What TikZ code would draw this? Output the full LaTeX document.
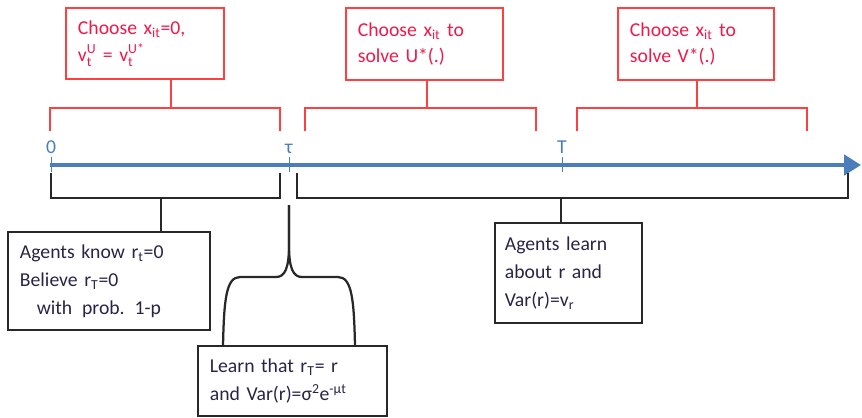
\documentclass[tikz,border=0pt]{standalone}
\usepackage{amsmath}
\usepackage{fontspec}
\setmainfont{Carlito}
\usetikzlibrary{arrows.meta}
\definecolor{boxred}{RGB}{255,64,64}
\definecolor{textred}{RGB}{240,24,72}
\definecolor{axisblue}{RGB}{74,126,187}
\definecolor{darkline}{RGB}{40,40,40}
\definecolor{textdark}{RGB}{40,36,70}
\newcommand{\subsup}[3]{$\text{#1}_{\text{#2}}^{\text{#3}}$}

\begin{document}
\begin{tikzpicture}[x=0.025cm,y=-0.025cm]
   \useasboundingbox (0,0) rectangle (862,417);
   \tikzstyle{redbox}=[draw=boxred, line width=1.4pt, text=textred, inner xsep=0.3cm, align=left, font=\fontsize{14}{19}\selectfont]
   \tikzstyle{blackbox}=[draw=darkline, line width=1.4pt, text=textdark, inner xsep=0.3cm, align=left, font=\fontsize{14}{20}\selectfont]
   \tikzstyle{redbracket}=[draw=boxred, line width=2pt]
   \tikzstyle{blackbracket}=[draw=darkline, line width=2pt]
   \tikzstyle{axis}=[draw=axisblue, line width=2.8pt, -{Triangle[length=0.42cm,width=0.5cm]}]
   \tikzstyle{ticklabel}=[text=axisblue, inner sep=0pt, font=\fontsize{14}{16}\selectfont]
   % boxes above the time line
   \node[redbox, text width=3.35cm, minimum height=1.78cm] (choosezero) at (145,43.5)
      {Choose x\textsubscript{it}=0,\\ \subsup{v}{t}{U} = \subsup{v}{t}{U*}};
   \node[redbox, text width=3.33cm, minimum height=1.8cm] (chooseU) at (424.5,44)
      {Choose x\textsubscript{it} to\\ solve U*(.)};
   \node[redbox, text width=3.3cm, minimum height=1.8cm] (chooseV) at (696,44)
      {Choose x\textsubscript{it} to\\ solve V*(.)};
   % time line
   \coordinate (axisstart) at (50,165);
   \coordinate (axisend) at (861,165);
   \draw[axis] (axisstart) -- (axisend);
   \foreach \x/\name/\lab in {51/tzero/0, 289/ttau/τ, 562/tT/T} {
       \draw[axisblue, line width=0.7pt] (\x,157) -- (\x,172);
       \node[ticklabel, anchor=south] (\name) at (\x,154) {\lab};
   }
   % red brackets
   \foreach \a/\b/\s/\target in {50/280/171/choosezero, 305/536/427/chooseU, 577/807/697/chooseV} {
       \coordinate (top\target) at (\s,108);
       \draw[redbracket] (\a,131) |- (top\target) -| (\b,131);
       \draw[redbracket] (top\target) -- (top\target |- \target.south);
   }
   % boxes below the time line
   \node[blackbox, text width=4.45cm, minimum height=2.45cm] (knowbox) at (109,281)
      {Agents know r\textsubscript{t}=0\\ Believe r\textsubscript{T}=0\\ \hspace*{0.42cm}with\enspace prob.\enspace 1-p};
   \node[blackbox, inner xsep=0.25cm, text width=3.18cm, minimum height=2.5cm] (learnbox) at (568.5,273)
      {Agents learn\\ about r and\\ Var(r)=v\textsubscript{r}};
   \node[blackbox, text width=4.13cm, minimum height=1.75cm] (learnthat) at (292.5,381)
      {Learn that r\textsubscript{T}= r\\ and Var(r)=σ\textsuperscript{2}e\textsuperscript{-μt}};
   \coordinate (botknow) at (161,198);
   \draw[blackbracket] (51,173) |- (botknow) -| (280,173);
   \draw[blackbracket] (botknow) -- (botknow |- knowbox.north);
   \coordinate (botlearn) at (561,198);
   \draw[blackbracket] (297,173) |- (botlearn) -| (848,173);
   \draw[blackbracket] (botlearn) -- (botlearn |- learnbox.north);
   % brace up to tau
   \coordinate (bracetip) at (289,205);
   \coordinate (braceL) at (223,346);
   \coordinate (braceR) at (355,346);
   \draw[blackbracket, line width=1.6pt] (braceL) .. controls (224,300) and (226,277) .. (240,277) -- (276,277)
      .. controls (285,277) and (289,268) .. (289,245) -- (bracetip);
   \draw[blackbracket, line width=1.6pt] (braceR) .. controls (354,300) and (352,277) .. (338,277) -- (302,277)
      .. controls (293,277) and (289,268) .. (289,245) -- (bracetip);
\end{tikzpicture}
\end{document}
